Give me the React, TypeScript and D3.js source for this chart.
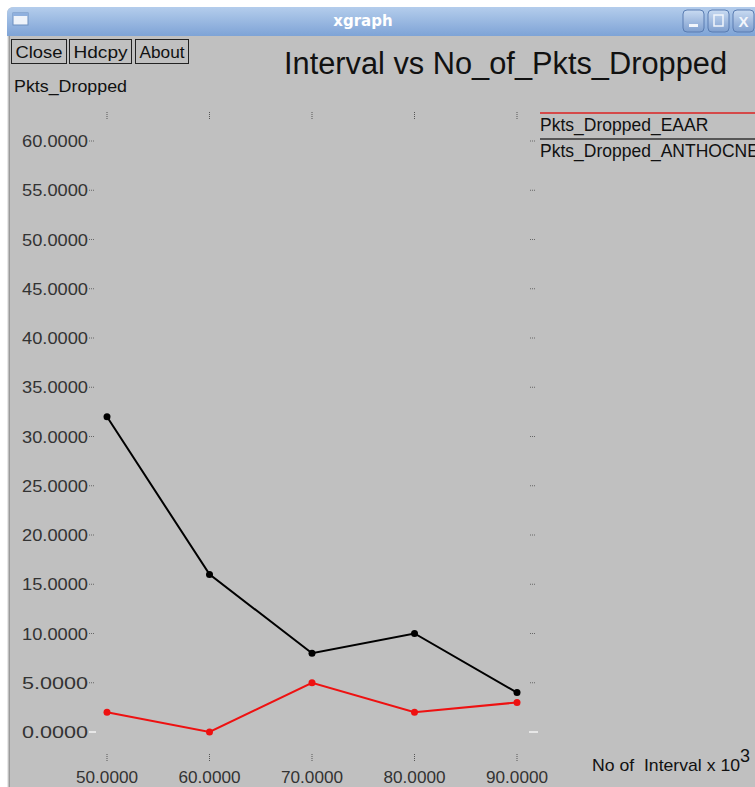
import React from "react";
import * as d3 from "d3";

const intervals = [50, 60, 70, 80, 90];
const eaarDropped = [2, 0, 5, 2, 3];
const anthocnetDropped = [32, 16, 8, 10, 4];
const yTicks = [0, 5, 10, 15, 20, 25, 30, 35, 40, 45, 50, 55, 60];
const xTicks = [50, 60, 70, 80, 90];
const seriesNames = ["Pkts_Dropped_EAAR", "Pkts_Dropped_ANTHOCNET"];
const seriesColors = ["#ee1111", "#000000"];
const buttons = ["Close", "Hdcpy", "About"];

const W = 755;
const H = 787;
const font = "'Liberation Sans', Arial, sans-serif";

export default function App() {
  const x = d3.scaleLinear().domain([50, 90]).range([107, 517]);
  const y = d3.scaleLinear().domain([0, 60]).range([732, 141]);
  const line = d3
    .line<number>()
    .x((_, i) => x(intervals[i]))
    .y((d) => y(d));
  const series = [eaarDropped, anthocnetDropped];
  const btnX = [11, 69, 135];
  const btnW = [55, 62, 53];

  return (
    <svg
      width={W}
      height={H}
      style={{ position: "absolute", left: 0, top: 0, display: "block" }}
      fontFamily={font}
    >
      <defs>
        <linearGradient id="tb" x1="0" y1="0" x2="0" y2="1">
          <stop offset="0" stopColor="#b4cdec" />
          <stop offset="1" stopColor="#7ea3d6" />
        </linearGradient>
        <linearGradient id="wb" x1="0" y1="0" x2="0" y2="1">
          <stop offset="0" stopColor="#c9dbf2" />
          <stop offset="1" stopColor="#7f9fcf" />
        </linearGradient>
      </defs>
      <rect x={0} y={0} width={W} height={H} fill="#ffffff" />
      {/* window */}
      <path d={`M7,${H} L7,14 Q7,7 14,7 L${W},7 L${W},${H} Z`} fill="#c0c0c0" />
      <path d={`M7,36 L7,14 Q7,7 14,7 L${W},7 L${W},36 Z`} fill="url(#tb)" />
      <line x1={7.5} y1={36} x2={7.5} y2={H} stroke="#e8e8e8" strokeWidth={1} />
      <line x1={9.5} y1={36} x2={9.5} y2={H} stroke="#9a9a9a" strokeWidth={1} />
      {/* title bar icon */}
      <rect x={13} y={13} width={15} height={12} fill="#eef3fa" stroke="#6d8fbf" />
      <rect x={13} y={13} width={15} height={3} fill="#8fb0de" />
      <text x={363} y={26} textAnchor="middle" fontSize={15} fontWeight="bold" fill="#ffffff" fontFamily="'DejaVu Sans', sans-serif">
        xgraph
      </text>
      {[683, 708, 733].map((bx, i) => (
        <g key={i}>
          <rect x={bx} y={10} width={21} height={22} rx={4} fill="url(#wb)" stroke="#5a7db2" />
          {i === 0 && <rect x={bx + 6} y={24} width={9} height={3} fill="#f2f6fc" />}
          {i === 1 && <rect x={bx + 6} y={15} width={9} height={11} fill="none" stroke="#f2f6fc" strokeWidth={1.5} />}
          {i === 2 && (
            <text x={bx + 10.5} y={27} textAnchor="middle" fontSize={15} fontWeight="bold" fill="#f2f6fc">
              X
            </text>
          )}
        </g>
      ))}
      {/* buttons */}
      {buttons.map((b, i) => (
        <g key={b}>
          <rect x={btnX[i] + 0.5} y={39.5} width={btnW[i]} height={24} fill="#c0c0c0" stroke="#222" strokeWidth={1} />
          <text x={btnX[i] + btnW[i] / 2 + 0.5} y={58} textAnchor="middle" fontSize={17} fill="#111" textLength={btnW[i] - 8} lengthAdjust="spacingAndGlyphs">
            {b}
          </text>
        </g>
      ))}
      <text x={284} y={74} fontSize={31} fill="#111" textLength={443} lengthAdjust="spacingAndGlyphs">
        Interval vs No_of_Pkts_Dropped
      </text>
      <text x={14} y={92} fontSize={17} fill="#111" textLength={113} lengthAdjust="spacingAndGlyphs">
        Pkts_Dropped
      </text>
      {/* y axis labels and ticks */}
      {yTicks.map((t) => (
        <g key={t}>
          <text x={88} y={y(t) + 6} textAnchor="end" fontSize={17} fill="#333" textLength={66} lengthAdjust="spacingAndGlyphs">
            {t.toFixed(4)}
          </text>
          {t === 0 ? (
            <>
              <line x1={89} x2={96} y1={y(t)} y2={y(t)} stroke="#f4f4f4" strokeWidth={1.5} />
              <line x1={529} x2={538} y1={y(t)} y2={y(t)} stroke="#f4f4f4" strokeWidth={1.5} />
            </>
          ) : (
            <>
              <line x1={89} x2={95} y1={y(t)} y2={y(t)} stroke="#666" strokeWidth={1} strokeDasharray="1,1" />
              <line x1={530} x2={536} y1={y(t)} y2={y(t)} stroke="#666" strokeWidth={1} strokeDasharray="1,1" />
            </>
          )}
        </g>
      ))}
      {/* x axis labels and ticks */}
      {xTicks.map((t) => (
        <g key={t}>
          <line x1={x(t)} x2={x(t)} y1={112} y2={120} stroke="#555" strokeWidth={1} strokeDasharray="1,1" />
          <line x1={x(t)} x2={x(t)} y1={754} y2={762} stroke="#555" strokeWidth={1} strokeDasharray="1,1" />
          <text x={x(t)} y={783} textAnchor="middle" fontSize={17} fill="#333" textLength={62} lengthAdjust="spacingAndGlyphs">
            {t.toFixed(4)}
          </text>
        </g>
      ))}
      <text x={592} y={771} fontSize={17} fill="#111" style={{ whiteSpace: "pre" }}>
        <tspan textLength={148} lengthAdjust="spacingAndGlyphs">{"No of  Interval x 10"}</tspan>
        <tspan dy={-9} fontSize={18}>3</tspan>
      </text>
      {/* legend */}
      {seriesNames.map((n, i) => (
        <g key={n}>
          <line x1={540} x2={W} y1={113 + i * 26} y2={113 + i * 26} stroke={seriesColors[i] === "#000000" ? "#333" : "#dd2222"} strokeWidth={1.5} />
          <text x={540} y={131 + i * 26} fontSize={17.5} fill="#111">
            {n}
          </text>
        </g>
      ))}
      {/* series */}
      {series.map((s, si) => (
        <g key={si}>
          <path d={line(s) || ""} fill="none" stroke={seriesColors[si]} strokeWidth={2} />
          {s.map((v, i) => (
            <circle key={i} cx={x(intervals[i])} cy={y(v)} r={3.5} fill={seriesColors[si]} />
          ))}
        </g>
      ))}
    </svg>
  );
}
